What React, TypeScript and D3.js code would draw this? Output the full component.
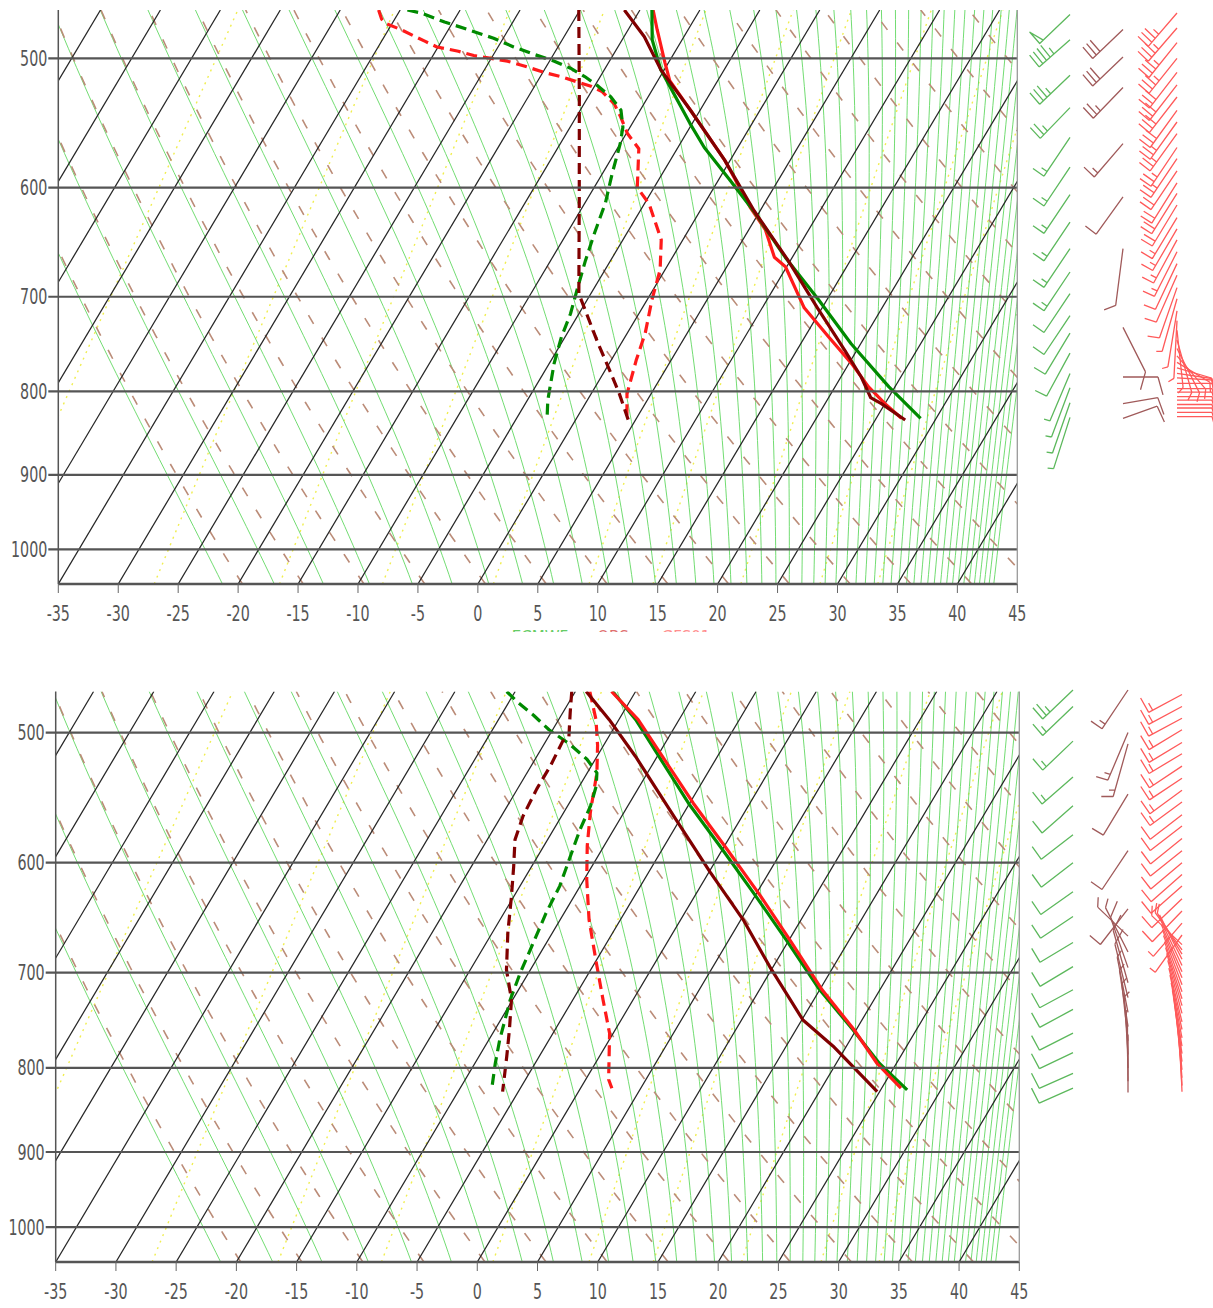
import React from "react";
import * as d3 from "d3";

// ---------- reference-line sets ----------
const ISOBARS = [500, 600, 700, 800, 900, 1000];
const TEMP_TICKS = d3.range(-35, 50, 5);
const ISOTHERMS = d3.range(-70, 50, 5);
const THETA_LINES = d3.range(250, 455, 5);
const THETAE_LINES = d3.range(250, 490, 5);
const MIXING_RATIOS = [0.1, 0.4, 1, 2, 4, 7, 10, 16, 24, 32];
const P_BOTTOM = 1050;
const SKEW = 35.2; // degC shift per ln(p) unit

// ---------- panel 1 profiles [p, T] ----------
const P1_T_GREEN = [[467,-14.0],[487,-12.5],[508,-10.3],[548,-5.2],[567,-2.8],[594,1.0],[622,4.7],[662,9.4],[703,14.3],[748,19.2],[795,24.5],[831,28.7]];
const P1_T_RED = [[467,-13.9],[480,-12.6],[503,-10.3],[516,-9.0],[538,-5.8],[577,-0.5],[617,4.0],[637,6.4],[662,8.5],[671,9.9],[711,13.5],[741,17.0],[769,20.2],[795,22.8],[814,25.0],[831,27.1]];
const P1_T_MAROON = [[467,-16.3],[485,-13.3],[508,-10.3],[538,-5.8],[577,-0.5],[620,4.5],[665,9.8],[711,14.6],[755,19.0],[784,21.7],[807,23.5],[814,24.7],[833,27.5]];
const P1_TD_MAROON = [[467,-20.1],[530,-15.6],[611,-10.6],[697,-6.0],[714,-4.6],[748,-1.9],[773,0.1],[802,2.3],[833,4.4]];
const P1_TD_GREEN = [[467,-34.4],[469,-33.1],[475,-30.7],[480,-28.4],[486,-25.8],[492,-23.7],[497,-21.7],[502,-19.6],[507,-17.9],[513,-16.3],[520,-14.7],[528,-13.1],[538,-11.6],[551,-10.6],[564,-10.0],[588,-9.2],[613,-8.3],[640,-7.7],[665,-7.1],[691,-6.4],[717,-5.7],[741,-5.3],[769,-4.6],[810,-3.3],[830,-2.5]];
const P1_TD_RED = [[467,-36.8],[473,-36.1],[476,-35.5],[480,-34.0],[488,-31.4],[492,-30.1],[495,-28.1],[498,-26.6],[500,-25.0],[502,-23.5],[506,-21.6],[510,-19.9],[513,-18.3],[517,-16.6],[520,-15.3],[524,-14.1],[533,-12.5],[543,-11.3],[556,-9.9],[568,-8.2],[600,-6.4],[614,-4.6],[646,-1.8],[674,-0.4],[703,0.4],[737,1.5],[766,2.1],[803,3.0],[831,4.2]];

// ---------- panel 2 profiles [p, T] ----------
const P2_T_GREEN = [[472,-16.9],[491,-13.6],[521,-9.3],[552,-5.1],[589,0.0],[629,5.1],[668,9.7],[717,15.0],[758,19.7],[795,23.6],[825,27.2]];
const P2_T_RED = [[472,-17.0],[491,-13.4],[521,-9.0],[552,-4.7],[589,0.4],[629,5.5],[668,10.0],[717,15.2],[758,19.8],[795,23.4],[823,26.6]];
const P2_T_MAROON = [[472,-19.1],[491,-15.8],[517,-11.8],[565,-5.3],[608,0.1],[650,5.2],[694,9.7],[748,15.1],[776,18.9],[827,24.8]];
const P2_TD_GREEN = [[472,-25.7],[479,-24.3],[488,-22.3],[498,-20.3],[508,-17.9],[519,-15.7],[529,-14.2],[539,-13.6],[554,-13.1],[573,-12.8],[594,-12.3],[620,-11.7],[644,-11.5],[671,-11.1],[700,-10.7],[727,-10.2],[769,-9.1],[795,-8.3],[825,-7.3]];
const P2_TD_MAROON = [[472,-20.3],[486,-19.4],[503,-18.3],[506,-18.6],[524,-18.4],[541,-18.4],[562,-18.2],[581,-17.7],[603,-16.5],[629,-15.2],[662,-13.7],[697,-12.0],[727,-10.1],[758,-8.8],[787,-7.7],[827,-6.3]];
const P2_TD_RED = [[472,-18.8],[491,-16.9],[509,-15.5],[529,-14.2],[559,-12.8],[586,-11.4],[614,-9.8],[650,-7.6],[690,-4.9],[727,-2.5],[762,-0.3],[813,1.9],[823,2.6]];

// ---------- winds [p, direction deg, speed kt] ----------
const P1_WIND_GREEN = [[470,240,50],[487,242,45],[512,240,35],[536,238,25],[559,228,15],[583,228,15],[606,228,15],[630,228,15],[654,228,15],[676,228,15],[697,228,10],[719,228,10],[737,225,10],[758,222,10],[780,215,5],[796,212,5],[813,210,5],[830,208,5]];
const P1_WIND_MAROON = [[480,240,30],[499,240,30],[521,238,25],[564,235,15],[608,230,10],[654,192,10],[731,140,10],[784,90,10],[814,84,10],[831,78,10]];
const P1_WIND_RED = [[469,235,35],[479,235,35],[489,233,35],[500,233,35],[510,232,30],[519,232,30],[528,232,30],[538,230,30],[547,230,25],[556,230,25],[567,228,25],[576,228,25],[586,228,20],[596,226,20],[605,226,20],[615,225,20],[626,225,15],[636,224,15],[646,222,15],[657,220,15],[668,218,10],[679,216,10],[691,210,10],[702,205,5],[714,195,5],[724,185,5],[734,170,5],[744,155,5],[753,140,5],[761,125,5],[768,110,5],[774,100,10],[780,95,10],[785,92,10],[791,90,10],[797,90,10],[801,90,10],[806,90,10],[810,90,10],[815,90,10],[819,90,10],[824,90,10],[829,90,10]];
const P2_WIND_GREEN = [[471,240,25],[482,240,15],[506,240,15],[532,242,15],[554,242,10],[577,245,10],[600,245,10],[625,247,10],[647,248,10],[671,250,10],[694,250,10],[717,252,10],[737,252,10],[762,253,10],[783,254,10],[806,255,10],[823,255,10]];
const P2_WIND_MAROON = [[471,228,15],[500,215,15],[508,205,15],[545,225,10],[590,228,10],[640,232,10],[665,300,5],[680,320,5],[695,330,10],[710,335,10],[725,338,10],[740,342,5],[755,346,5],[770,350,5],[785,354,5],[800,357,0],[815,359,0],[828,360,0]];
const P2_WIND_RED = [[474,252,15],[482,252,15],[490,252,15],[498,250,15],[507,250,15],[515,250,15],[524,248,15],[533,248,15],[542,246,15],[551,246,15],[561,245,10],[570,245,10],[580,244,10],[590,244,10],[600,243,10],[610,242,10],[620,242,10],[631,240,10],[642,238,10],[653,235,5],[664,230,5],[673,300,5],[678,310,5],[682,315,5],[687,320,0],[693,322,0],[699,324,0],[705,326,0],[712,328,0],[719,330,0],[726,332,0],[733,334,0],[741,336,0],[750,338,0],[758,340,0],[767,342,0],[776,344,0],[784,346,0],[793,348,0],[802,350,0],[811,352,0],[820,354,0],[827,356,0]];

const LEGEND = [
  { label: "ECMWF", color: "#66cc66", x: 540 },
  { label: "OBS", color: "#e07070", x: 613 },
  { label: "GFS01", color: "#ff9090", x: 686 },
];

// ---------- thermodynamics for background lines ----------
const es = (t: number) => 6.112 * Math.exp((17.67 * t) / (t + 243.5));
function thetaE(t: number, p: number) {
  const e = es(t);
  const ws = (0.622 * e) / (p - e);
  const tk = t + 273.15;
  return tk * Math.pow(1000 / p, 0.2857) * Math.exp((2.5e6 * ws) / (1004 * tk));
}
function tFromThetaE(te: number, p: number) {
  let lo = -120, hi = 60;
  for (let i = 0; i < 50; i++) {
    const mid = (lo + hi) / 2;
    if (thetaE(mid, p) > te) hi = mid; else lo = mid;
  }
  return (lo + hi) / 2;
}
function tdFromMix(w: number, p: number) {
  const e = (w * p) / (622 + w);
  const a = Math.log(e / 6.112);
  return (243.5 * a) / (17.67 - a);
}

type Cfg = {
  id: string; left: number; right: number; top: number; bottom: number; pTop: number;
  winds: { data: number[][]; x: number; color: string }[];
  temps: { data: number[][]; color: string; dashed: boolean }[];
  legend: boolean;
};

function barbPath(x0: number, y0: number, dir: number, spd: number) {
  const Lx = 35, Ly = 58;
  const r = (dir * Math.PI) / 180;
  const ux = Math.sin(r), uy = -Math.cos(r);
  const a = (65 * Math.PI) / 180;
  const fx = ux * Math.cos(a) - uy * Math.sin(a);
  const fy = ux * Math.sin(a) + uy * Math.cos(a);
  const P = (t: number, f = 0) => `${(x0 + (ux * t + fx * f) * Lx).toFixed(1)},${(y0 + (uy * t + fy * f) * Ly).toFixed(1)}`;
  let d = `M${P(0)}L${P(1)}`;
  let s = Math.round(spd / 5) * 5;
  let t = 1;
  const step = 0.12, fl = 0.34;
  while (s >= 50) { d += `M${P(t)}L${P(t, fl)}L${P(t - step)}Z`; t -= step * 1.3; s -= 50; }
  while (s >= 10) { d += `M${P(t)}L${P(t, fl)}`; t -= step; s -= 10; }
  if (s >= 5) { d += `M${P(t)}L${P(t, fl / 2)}`; }
  return d;
}

function Panel({ cfg }: { cfg: Cfg }) {
  const { left, right, top, bottom, pTop } = cfg;
  const y = d3.scaleLog().domain([P_BOTTOM, pTop]).range([bottom, top]);
  const xs = d3.scaleLinear().domain([-35, 45]).range([left, right]);
  const X = (t: number, p: number) => xs(t + SKEW * Math.log(P_BOTTOM / p));
  const pSamples = d3.range(0, 61).map((i) => P_BOTTOM * Math.pow(pTop / P_BOTTOM, i / 60));
  const curve = d3.line<[number, number]>().x((d) => X(d[1], d[0])).y((d) => y(d[0]));
  const clipId = `clip-${cfg.id}`;
  const fontTx = (x: number, yy: number) => `translate(${x},${yy}) scale(0.68,1)`;

  return (
    <g>
      <defs>
        <clipPath id={clipId}>
          <rect x={left} y={top} width={right - left} height={bottom - top} />
        </clipPath>
      </defs>
      <g clipPath={`url(#${clipId})`}>
        {MIXING_RATIOS.map((w) => (
          <path key={`w${w}`} d={curve(pSamples.map((p) => [p, tdFromMix(w, p)]) as any) || ""} fill="none" stroke="#f0ee50" strokeWidth={1.4} strokeDasharray="2 5" />
        ))}
        {THETAE_LINES.map((te) => (
          <path key={`te${te}`} d={curve(pSamples.map((p) => [p, tFromThetaE(te, p)]) as any) || ""} fill="none" stroke="#62d862" strokeWidth={0.9} />
        ))}
        {THETA_LINES.map((th) => (
          <path key={`th${th}`} d={curve(pSamples.map((p) => [p, th * Math.pow(p / 1000, 0.2857) - 273.15]) as any) || ""} fill="none" stroke="#bb8c78" strokeWidth={1.6} strokeDasharray="10 16" />
        ))}
        {ISOTHERMS.map((t) => (
          <line key={`it${t}`} x1={X(t, P_BOTTOM)} y1={y(P_BOTTOM)} x2={X(t, pTop)} y2={y(pTop)} stroke="#262626" strokeWidth={1.25} />
        ))}
        {cfg.temps.map((s, i) => (
          <path key={`pr${i}`} d={curve(s.data as any) || ""} fill="none" stroke={s.color} strokeWidth={3.2} strokeDasharray={s.dashed ? "11 6" : undefined} strokeLinejoin="round" />
        ))}
      </g>
      {ISOBARS.map((p) => (
        <g key={`ib${p}`}>
          <line x1={left - 10} x2={right} y1={y(p)} y2={y(p)} stroke="#555" strokeWidth={2.2} />
          <text transform={fontTx(left - 11, y(p) + 7.5)} textAnchor="end" fontFamily="DejaVu Sans, sans-serif" fontSize={21} fill="#555">{p}</text>
        </g>
      ))}
      <line x1={left} x2={right} y1={bottom} y2={bottom} stroke="#555" strokeWidth={2.4} />
      <line x1={left} x2={left} y1={top} y2={bottom} stroke="#555" strokeWidth={1.5} />
      <line x1={right} x2={right} y1={top} y2={bottom} stroke="#999" strokeWidth={1.3} />
      {TEMP_TICKS.map((t) => (
        <g key={`tt${t}`}>
          <line x1={xs(t)} x2={xs(t)} y1={bottom} y2={bottom + 9} stroke="#666" strokeWidth={1} />
          <text transform={fontTx(xs(t), bottom + 37)} textAnchor="middle" fontFamily="DejaVu Sans, sans-serif" fontSize={21} fill="#555">{t}</text>
        </g>
      ))}
      {cfg.winds.map((col, ci) => (
        <g key={`wc${ci}`} stroke={col.color} strokeWidth={1.3} fill="none" strokeLinejoin="round">
          {col.data.map((w, i) => (
            <path key={i} d={barbPath(col.x, y(w[0]), w[1], w[2])} />
          ))}
        </g>
      ))}
      {cfg.legend && (
        <g>
          <defs>
            <clipPath id={`leg-${cfg.id}`}>
              <rect x={left} y={bottom + 44} width={right - left} height={4} />
            </clipPath>
          </defs>
          <g clipPath={`url(#leg-${cfg.id})`}>
            {LEGEND.map((l) => (
              <text key={l.label} x={l.x} y={bottom + 58} textAnchor="middle" fontFamily="DejaVu Sans, sans-serif" fontSize={15} fill={l.color}>{l.label}</text>
            ))}
          </g>
        </g>
      )}
    </g>
  );
}

const PANEL1: Cfg = {
  id: "p1", left: 58.3, right: 1017.3, top: 10, bottom: 584, pTop: 467, legend: true,
  temps: [
    { data: P1_TD_RED, color: "#ff1a1a", dashed: true },
    { data: P1_TD_GREEN, color: "#008a00", dashed: true },
    { data: P1_TD_MAROON, color: "#800000", dashed: true },
    { data: P1_T_RED, color: "#ff1a1a", dashed: false },
    { data: P1_T_GREEN, color: "#008a00", dashed: false },
    { data: P1_T_MAROON, color: "#800000", dashed: false },
  ],
  winds: [
    { data: P1_WIND_GREEN, x: 1070, color: "#5cb85c" },
    { data: P1_WIND_MAROON, x: 1123, color: "#a05a5a" },
    { data: P1_WIND_RED, x: 1177, color: "#ff5a5a" },
  ],
};
const PANEL2: Cfg = {
  id: "p2", left: 55.7, right: 1019.3, top: 691.5, bottom: 1262, pTop: 472, legend: false,
  temps: [
    { data: P2_TD_RED, color: "#ff1a1a", dashed: true },
    { data: P2_TD_GREEN, color: "#008a00", dashed: true },
    { data: P2_TD_MAROON, color: "#800000", dashed: true },
    { data: P2_T_MAROON, color: "#800000", dashed: false },
    { data: P2_T_GREEN, color: "#008a00", dashed: false },
    { data: P2_T_RED, color: "#ff1a1a", dashed: false },
  ],
  winds: [
    { data: P2_WIND_GREEN, x: 1073, color: "#5cb85c" },
    { data: P2_WIND_MAROON, x: 1128, color: "#a05a5a" },
    { data: P2_WIND_RED, x: 1182, color: "#ff5a5a" },
  ],
};

export default function App() {
  return (
    <svg width={1213} height={1308} style={{ position: "absolute", left: 0, top: 0, background: "#fff" }}>
      <rect width={1213} height={1308} fill="#fff" />
      <Panel cfg={PANEL1} />
      <Panel cfg={PANEL2} />
    </svg>
  );
}
